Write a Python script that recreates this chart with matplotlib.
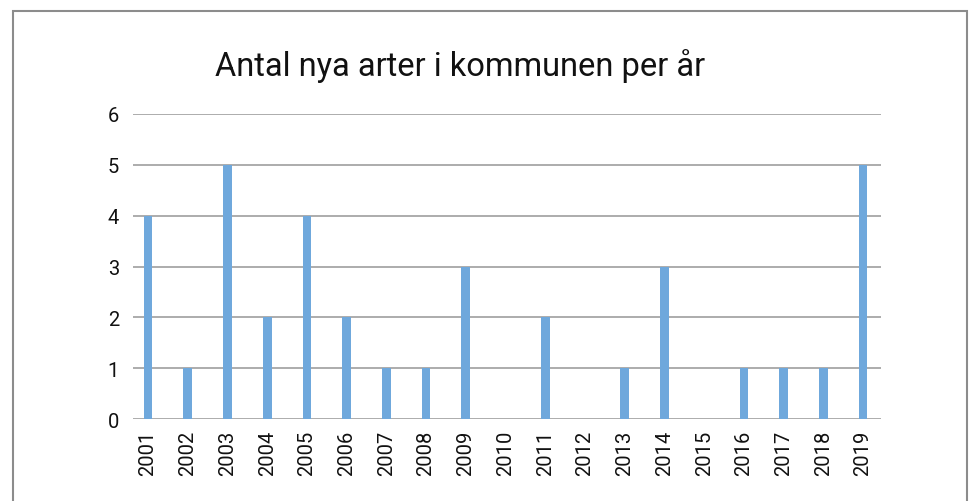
import matplotlib.pyplot as plt
from matplotlib.patches import Rectangle

# Data
years = ['2001', '2002', '2003', '2004', '2005', '2006', '2007', '2008', '2009', '2010',
         '2011', '2012', '2013', '2014', '2015', '2016', '2017', '2018', '2019']
counts = [4, 1, 5, 2, 4, 2, 1, 1, 3, 0, 2, 0, 1, 3, 0, 1, 1, 1, 5]

plt.rcParams['font.family'] = ['Roboto', 'DejaVu Sans']

fig = plt.figure(figsize=(9.76, 5.02), dpi=100)
ax = fig.add_axes([133 / 976, 1 - 420 / 502, 748 / 976, 305 / 502])

# Outer chart border (bottom cut off like the reference)
fig.patches.append(Rectangle((13 / 976, -0.05), 954 / 976, 1.05 - 12 / 502,
                             transform=fig.transFigure, fill=False,
                             edgecolor='#8c8c8c', linewidth=1.5))

x = range(len(years))
ax.bar(x, counts, width=0.22, color='#6fa8dc', zorder=3)

ax.set_ylim(0, 6)
ax.set_xlim(-0.378, 18.45)
ax.set_yticks(range(0, 7))
ax.set_xticks(list(x))
ax.set_xticklabels(years, rotation=90)
ax.grid(axis='y', color='#a6a6a6', linewidth=1.3, zorder=0)
ax.tick_params(axis='both', length=0, labelsize=14.5, colors='#111111')
ax.tick_params(axis='y', pad=10)
ax.tick_params(axis='x', pad=8)
for s in ax.spines.values():
    s.set_visible(False)

fig.text(460 / 976, 1 - 66 / 502, 'Antal nya arter i kommunen per år',
         ha='center', va='center', fontsize=23.5, color='#111111')

fig.savefig('out.png', dpi=100)
